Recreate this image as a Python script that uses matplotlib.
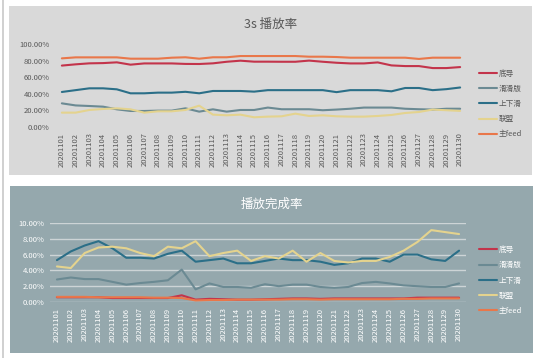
import matplotlib
matplotlib.use("Agg")
import matplotlib.pyplot as plt
from matplotlib.lines import Line2D
from matplotlib.ticker import FuncFormatter

plt.rcParams['font.family'] = ['Noto Sans CJK SC', 'DejaVu Sans']

dates = ["20201101", "20201102", "20201103", "20201104", "20201105", "20201106",
         "20201107", "20201108", "20201109", "20201110", "20201111", "20201112",
         "20201113", "20201114", "20201115", "20201116", "20201117", "20201118",
         "20201119", "20201120", "20201121", "20201122", "20201123", "20201124",
         "20201125", "20201126", "20201127", "20201128", "20201129", "20201130"]
names = ["底导", "滑滑版", "上下滑", "联盟", "主feed"]

# 3s 播放率 (%)
play3s_didao = [74, 75.5, 76.7, 77, 77.9, 75.1, 76.6, 76.6, 76.6, 76, 75.9, 76.7, 78.6, 79.9,
                78.7, 78.7, 78.6, 78.6, 80, 78.6, 77.4, 76.6, 76.6, 77.8, 74.2, 73.4, 73.4,
                71, 71, 72.2]
play3s_huahua = [28.5, 26, 25.3, 24.5, 21.3, 19.3, 19.3, 19.7, 19.7, 22.5, 18.5, 21.3, 18.5,
                 20.5, 20.5, 23.4, 21.4, 21.4, 21.4, 20.2, 21, 22, 23.4, 23.4, 23.4, 22, 21.4,
                 21, 22, 22]
play3s_updown = [42.2, 44.4, 46.6, 46.6, 45.4, 40.6, 40.6, 41.4, 41.4, 42.4, 40.6, 43.4, 43.4,
                 43.4, 42.6, 44.4, 44.4, 44.4, 44.4, 44.4, 42, 44.4, 44.4, 44.4, 43, 47, 47,
                 44.4, 45.6, 47.6]
play3s_lianmeng = [17.3, 17.3, 20.5, 21.7, 22.5, 21.3, 17.3, 18.9, 18.9, 20.5, 25.7, 14.9, 14.1,
                   14.9, 11.7, 12.5, 12.9, 16.1, 13.3, 14.1, 12.9, 12.5, 12.5, 13.3, 14.5, 16.9,
                   18.1, 21, 20.2, 19.4]
play3s_feed = [82.7, 83.9, 83.9, 83.9, 83.9, 82.3, 82.3, 82.3, 83.5, 84, 82.3, 84, 84, 85.5,
               85.5, 85.5, 85.5, 85.5, 84.7, 84.7, 84.3, 83.5, 83.5, 83.5, 83.5, 83.5, 82,
               83.5, 83.5, 83.5]

# 播放完成率 (%)
done_didao = [0.6, 0.6, 0.6, 0.6, 0.5, 0.5, 0.5, 0.5, 0.5, 0.85, 0.3, 0.4, 0.35, 0.3, 0.3,
              0.35, 0.4, 0.45, 0.45, 0.4, 0.45, 0.45, 0.45, 0.45, 0.45, 0.45, 0.55, 0.55,
              0.55, 0.55]
done_huahua = [2.85, 3.1, 2.9, 2.9, 2.55, 2.2, 2.4, 2.55, 2.75, 4.1, 1.6, 2.35, 1.9, 1.9, 1.8,
               2.25, 2.0, 2.2, 2.2, 1.9, 1.8, 1.9, 2.4, 2.55, 2.35, 2.1, 2.0, 1.9, 1.9, 2.35]
done_updown = [5.3, 6.4, 7.15, 7.7, 6.8, 5.6, 5.6, 5.5, 6.1, 6.5, 5.1, 5.3, 5.5, 4.9, 4.9, 5.2,
               5.5, 5.3, 5.3, 5.1, 4.7, 4.9, 5.5, 5.5, 5.1, 6.0, 6.0, 5.4, 5.2, 6.5]
done_lianmeng = [4.5, 4.3, 6.2, 6.9, 7.0, 6.8, 6.2, 5.8, 7.0, 6.8, 7.7, 5.8, 6.2, 6.5, 5.2, 5.8,
                 5.5, 6.5, 5.1, 6.2, 5.2, 5.0, 5.2, 5.2, 5.7, 6.5, 7.6, 9.1, 8.85, 8.6]
done_feed = [0.65, 0.65, 0.65, 0.6, 0.6, 0.6, 0.6, 0.55, 0.55, 0.5, 0.2, 0.25, 0.25, 0.3, 0.3,
             0.3, 0.3, 0.35, 0.35, 0.3, 0.35, 0.35, 0.35, 0.35, 0.35, 0.4, 0.4, 0.45, 0.45, 0.45]

colors = ["#c3344b", "#6b8a93", "#2b6f88", "#e4d38e", "#e9774a"]
W, H = 541, 358


def frac(x0, y0, x1, y1):
    # pixel box (top-left origin) -> figure fraction rect
    return [x0 / W, 1 - y1 / H, (x1 - x0) / W, (y1 - y0) / H]


fig = plt.figure(figsize=(W / 100, H / 100), dpi=100)
fig.add_artist(Line2D([2.5 / W, 2.5 / W], [0, 1], color="#c8c8c8", lw=1.2))


def panel(box, plot_box, bg, series, ymax, yfmt, title, fg, grid, leg_y):
    bgax = fig.add_axes(frac(*box))
    bgax.set_facecolor(bg)
    bgax.set_xticks([]); bgax.set_yticks([])
    for s in bgax.spines.values():
        s.set_visible(False)
    ax = fig.add_axes(frac(*plot_box))
    ax.patch.set_alpha(0)
    x = range(len(dates))
    for name, vals, c in zip(names, series, colors):
        ax.plot(x, [v / 100 for v in vals], color=c, lw=1.5, label=name, solid_capstyle="round")
    ax.set_xlim(-0.5, len(dates) - 0.5)
    ax.set_ylim(0, ymax)
    ax.set_yticks([ymax * i / 5 for i in range(6)])
    ax.yaxis.set_major_formatter(FuncFormatter(yfmt))
    ax.set_xticks(list(x))
    ax.set_xticklabels(dates, rotation=90)
    ax.tick_params(length=0, labelsize=5.5, colors=fg, pad=4)
    for s in ax.spines.values():
        s.set_visible(False)
    if grid:
        ax.grid(axis="y", color="#cdd4d6", lw=1.0)
        ax.set_axisbelow(True)
    fig.text((box[0] + box[2]) / 2 / W, 1 - (box[1] + 18) / H, title, ha="center",
             va="center", fontsize=9, color=fg)
    fig.legend(loc="center left", bbox_to_anchor=(479 / W, 1 - leg_y / H), frameon=False,
               fontsize=5.5, handlelength=2.4, handletextpad=0.15, labelspacing=0.95,
               borderpad=0, borderaxespad=0, labelcolor=fg, handles=ax.get_lines())
    return ax


panel((9, 6, 532, 175), (55, 44, 467, 127), "#d9d9d9",
      [play3s_didao, play3s_huahua, play3s_updown, play3s_lianmeng, play3s_feed],
      1.0, lambda v, p: "0.00%" if v == 0 else f"{v * 100:.2f}%", "3s 播放率", "#595959",
      False, 104)
panel((10, 186, 533, 353), (50, 223, 466, 302), "#95a8ad",
      [done_didao, done_huahua, done_updown, done_lianmeng, done_feed],
      0.10, lambda v, p: f"{v * 100:.2f}%", "播放完成率", "white", True, 280.5)

fig.savefig("out.png", dpi=100)
